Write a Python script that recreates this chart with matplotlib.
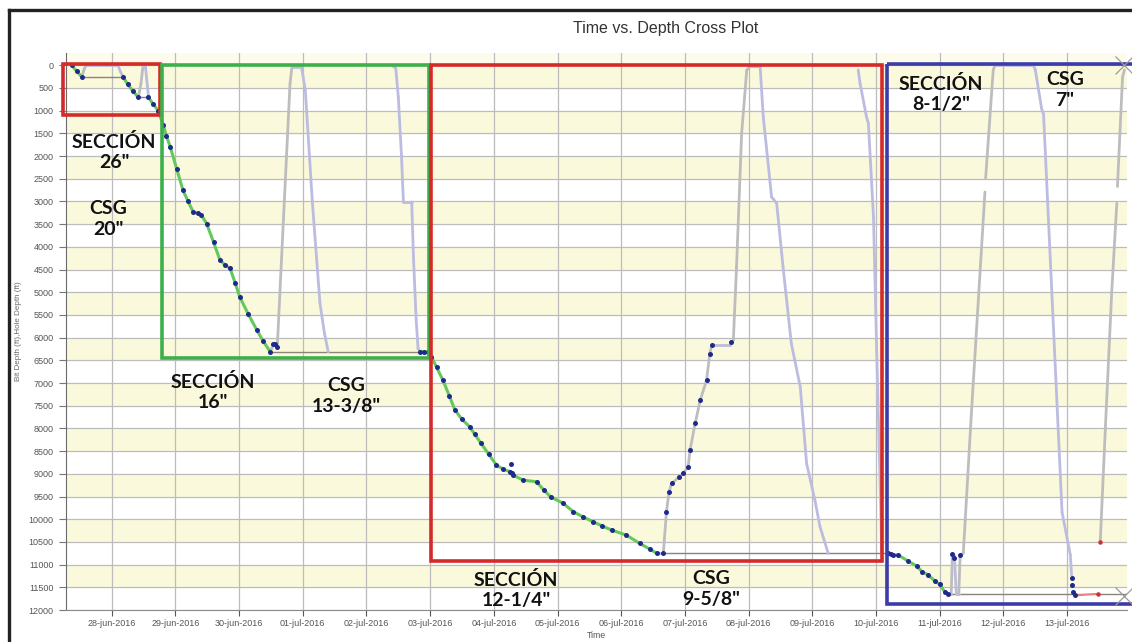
import numpy as np
import matplotlib
matplotlib.use("Agg")
import matplotlib.pyplot as plt
import matplotlib.dates as mdates
from matplotlib.collections import LineCollection
from matplotlib.patches import Rectangle
from matplotlib.lines import Line2D
import datetime as dt

# ---------------------------------------------------------------- data
# times are fractional days after 28-jun-2016 00:00, depths in ft
BASE = dt.datetime(2016, 6, 28)

# on-bottom drilling (green trace with dark-blue samples), NaN breaks sections
drill_days = [-0.63, -0.55, -0.47, np.nan,
              0.18, 0.25, 0.33, 0.41, np.nan,
              0.57, 0.65, 0.73, 0.81, 0.86, 0.92, 1.02, 1.12, 1.20, 1.28, 1.35,
              1.41, 1.49, 1.60, 1.70, 1.78, 1.86, 1.94, 2.01, 2.14, 2.28, 2.38,
              2.49, np.nan,
              4.84, 4.90, 4.97, 5.02, 5.10, 5.20, 5.30, 5.39, 5.50, 5.62, 5.70,
              5.80, 5.92, 6.04, 6.15, 6.25, 6.30, 6.46, 6.67, 6.78, 6.89, 7.09,
              7.25, 7.40, 7.56, 7.70, 7.85, 8.08, 8.29, 8.45, 8.56, np.nan,
              12.19, 12.27, 12.35, 12.50, 12.64, 12.72, 12.82, 12.92, 13.00,
              13.08, 13.13]
drill_depth = [0, 130, 257, np.nan,
               257, 420, 560, 697, np.nan,
               700, 850, 1000, 1321, 1560, 1798, 2280, 2753, 3000, 3230, 3260,
               3303, 3486, 3900, 4294, 4400, 4477, 4800, 5102, 5470, 5836, 6080,
               6313, np.nan,
               6313, 6313, 6320, 6423, 6650, 6937, 7280, 7597, 7800, 7964, 8130,
               8331, 8570, 8808, 8900, 8950, 9029, 9139, 9175, 9350, 9506, 9652,
               9836, 9950, 10056, 10150, 10240, 10350, 10533, 10660, 10753, np.nan,
               10746, 10790, 10790, 10920, 11032, 11153, 11230, 11356, 11437,
               11605, 11642]

# extra dark-blue samples recorded off bottom (reaming / short trips)
ream_days = [2.54, 2.57, 2.60, 6.27, 6.28, 8.66, 8.71, 8.75, 8.79, 8.90, 8.97,
             9.05, 9.08, 9.16, 9.24, 9.34, 9.39, 9.42, 9.73, 12.23,
             13.20, 13.22, 13.32, 15.07, 15.08, 15.09, 15.12]
ream_depth = [6150, 6130, 6200, 8780, 8990, 10753, 9836, 9400, 9212, 9080, 8991,
              8846, 8478, 7890, 7377, 6937, 6350, 6166, 6093, 10760,
              10768, 10850, 10790, 11300, 11450, 11600, 11680]

# bit depth while tripping, NaN marks gaps in the record
bit_days = [-0.47, -0.43, -0.40, 0.10, 0.14, 0.18, np.nan,
            0.42, 0.46, 0.49, 0.53, 0.56, 0.58, np.nan,
            2.49, 2.54, 2.58, 2.60, 2.70, 2.80, 2.83, 2.98, 3.04, 3.15, 3.27,
            3.34, 3.40, np.nan,
            4.42, 4.46, 4.50, 4.55, 4.58, 4.71, 4.74, 4.78, 4.81, 4.84, np.nan,
            8.60, 8.66, 8.71, 8.75, 8.79, 8.90, 8.97, 9.05, 9.08, 9.16, 9.24,
            9.34, 9.39, 9.42, 9.71, 9.73, 9.76, 9.81, 9.89, 9.97, 10.02, 10.18,
            10.23, 10.36, 10.44, 10.54, 10.67, 10.81, 10.91, 11.04, 11.12,
            11.25, np.nan,
            11.72, 11.75, 11.85, 11.88, 11.96, 12.01, 12.06, 12.09, np.nan,
            13.13, 13.18, 13.20, 13.23, 13.26, 13.30, 13.32, 13.37, 13.50,
            13.71, np.nan,
            13.72, 13.84, 13.87, 14.47, 14.50, 14.60, 14.63, 14.92, 15.05,
            15.07, np.nan,
            15.52, 15.60, 15.70, 15.78, np.nan,
            15.79, 15.87, 15.90]
bit_depth = [257, 80, 0, 0, 150, 257, np.nan,
             697, 400, 30, 30, 450, 700, np.nan,
             6313, 6150, 6130, 6203, 3300, 404, 37, 37, 550, 3000, 5240,
             5900, 6313, np.nan,
             30, 60, 700, 2000, 3010, 3010, 4300, 5600, 6240, 6313, np.nan,
             10753, 10753, 9836, 9400, 9212, 9080, 8991, 8846, 8478, 7890, 7377,
             6937, 6350, 6166, 6166, 6093, 6056, 4441, 1504, 110, 20, 20,
             1138, 2900, 3040, 4441, 6128, 7083, 8771, 9579, 10166,
             10753, np.nan,
             100, 404, 1138, 1284, 3340, 6276, 9000, 10753, np.nan,
             11642, 11642, 10768, 10800, 11642, 11642, 10790, 10746, 7600,
             2792, np.nan,
             2500, 101, 0, 0, 100, 958, 1079, 9843, 10785,
             11230, np.nan,
             10502, 8000, 5000, 3040, np.nan,
             2670, 264, 100]

# hole depth while off bottom
hole_days = [-0.47, 0.18, np.nan, 0.42, 0.58, np.nan, 2.49, 4.97, np.nan,
             8.56, 12.19, np.nan, 13.13, 15.94]
hole_depth = [257, 257, np.nan, 700, 700, np.nan, 6313, 6313, np.nan,
              10753, 10753, np.nan, 11642, 11642]

# bit depth logged in red near the end of the last section
red_days = [15.15, 15.30, 15.49]
red_depth = [11680, 11660, 11642]
red_pt_days = [15.49, 15.52]
red_pt_depth = [11642, 10502]

# section / casing boxes: (start day, end day, top ft, bottom ft, colour)
sections = [(-0.76, 0.76, -33, 1090, "#d62a2a"),
            (0.795, 4.98, -15, 6459, "#3db04b"),
            (5.02, 12.09, -15, 10911, "#d62a2a"),
            (12.17, 16.2, -22, 11858, "#3b3ba9")]

section_labels = ["SECCIÓN\n26\"", "CSG\n20\"", "SECCIÓN\n16\"", "CSG\n13-3/8\"",
                  "SECCIÓN\n12-1/4\"", "CSG\n9-5/8\"", "SECCIÓN\n8-1/2\"",
                  "CSG\n7\""]

y_ticks = list(range(0, 12001, 500))
n_day_ticks = 16

# ---------------------------------------------------------------- figure
W, H = 1132, 642
fig = plt.figure(figsize=(W / 100, H / 100), dpi=100)
fig.patch.set_facecolor("white")


def fpx(x, y):
    """pixel position -> figure fraction"""
    return x / W, 1 - y / H


ax = fig.add_axes([66 / W, (H - 610) / H, (1127 - 66) / W, (610 - 53) / H])
base = mdates.date2num(BASE)


def to_t(days):
    return base + np.asarray(days, dtype=float)


x0, x1 = base - 0.717, base + 15.94
ax.set_xlim(x0, x1)
ax.set_ylim(12000, -270)

# alternating bands
for k in range(0, 12000, 1000):
    ax.axhspan(k, k + 500, color="#fbf9dc", zorder=0, lw=0)
ax.axhspan(-270, 0, color="#fdfcec", zorder=0, lw=0)

ax.set_yticks(y_ticks)
ax.set_xticks(to_t(np.arange(n_day_ticks)))
ax.xaxis.set_major_formatter(
    matplotlib.ticker.FuncFormatter(
        lambda v, p: mdates.num2date(v).strftime("%d-%b-%Y").lower()))
ax.grid(True, color="#bcbcbc", lw=0.9, zorder=1)
ax.set_axisbelow(True)

for lab in ax.get_xticklabels() + ax.get_yticklabels():
    lab.set_fontfamily("Liberation Sans")
    lab.set_fontsize(6.5)
    lab.set_color("#555555")
ax.tick_params(axis="y", length=5, width=0.8, pad=4, color="#777777")
ax.tick_params(axis="x", length=4, width=0.8, pad=2.5, color="#555555")
for s in ("top", "right"):
    ax.spines[s].set_visible(False)
ax.spines["left"].set_color("#6a6a6a")
ax.spines["bottom"].set_color("#8a8a8a")

ax.set_ylabel("Bit Depth (ft),Hole Depth (ft)", fontfamily="Liberation Sans",
              fontsize=5.8, color="#6a6a6a", labelpad=5)
ax.set_xlabel("Time", fontfamily="Liberation Sans", fontsize=6.3,
              color="#555555", labelpad=2)

# hole depth (thin)
ax.plot(to_t(hole_days), hole_depth, color="#8c8478", lw=1.0, zorder=2)

# bit depth trips: grey when pulling out, lavender when running in
bt = to_t(bit_days)
bd = np.asarray(bit_depth, dtype=float)
segs, cols = [], []
for i in range(len(bt) - 1):
    if np.isnan(bd[i]) or np.isnan(bd[i + 1]):
        continue
    segs.append([(bt[i], bd[i]), (bt[i + 1], bd[i + 1])])
    cols.append("#bdbdbd" if bd[i + 1] < bd[i] else "#bcbce0")
ax.add_collection(LineCollection(segs, colors=cols, linewidths=2.0,
                                 capstyle="round", zorder=3))

# red log segment
ax.plot(to_t(red_days), red_depth, color="#e88080", lw=1.4, zorder=3)
ax.plot(to_t(red_pt_days), red_pt_depth, "o", color="#d03030", ms=2.2,
        zorder=4)

# drilling trace
ax.plot(to_t(drill_days), drill_depth, color="#62c95a", lw=2.2, zorder=4)
ax.plot(to_t(drill_days), drill_depth, "o", color="#1f2a8c", ms=3.6, mew=0,
        zorder=5)
ax.plot(to_t(ream_days), ream_depth, "o", color="#1f2a8c", ms=3.6, mew=0,
        zorder=5)

# end-of-record markers
ax.plot([x1 - 0.05, x1 - 0.05], [0, 11690], "x", color="#9a9a9a", ms=13,
        mew=0.9, zorder=8, clip_on=False)

# section boxes
for d0, d1, top, bot, c in sections:
    ax.add_patch(Rectangle((base + d0, top), d1 - d0, bot - top, fill=False,
                           ec=c, lw=2.6, zorder=7, clip_on=False))

# section labels (pixel centres of each two-line label)
label_pos = [(114, 152), (108, 219), (213, 392), (346, 396),
             (516, 590), (711, 589), (941, 94), (1065, 90)]
for txt, (px, py) in zip(section_labels, label_pos):
    fx, fy = fpx(px, py)
    fig.text(fx, fy, txt, ha="center", va="center", fontfamily="Lato",
             fontweight="bold", fontsize=14, color="#111111",
             linespacing=1.22, zorder=10)

fx, fy = fpx(666, 28)
fig.text(fx, fy, "Time vs. Depth Cross Plot", ha="center", va="center",
         fontfamily="Liberation Sans", fontsize=11.5, color="#333333")

# outer frame (left and top edges)
fig.add_artist(Line2D([9 / W, 9 / W], [0, 1 - 10 / H], transform=fig.transFigure,
                      color="#222222", lw=2.4))
fig.add_artist(Line2D([9 / W, 1], [1 - 10 / H, 1 - 10 / H],
                      transform=fig.transFigure, color="#222222", lw=2.4))

fig.savefig("out.png", dpi=100, facecolor="white")
